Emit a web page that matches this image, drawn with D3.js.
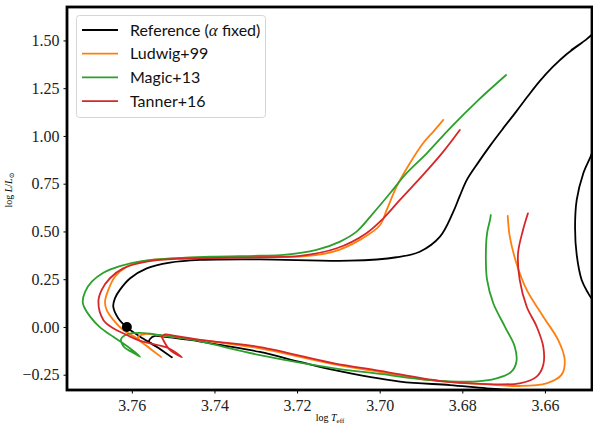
<!DOCTYPE html>
<meta charset="utf-8">
<title>HR tracks</title>
<style>
body { margin: 0; background: #fff; }
.track { fill: none; stroke-width: 1.8; stroke-linejoin: round; stroke-linecap: round; }
</style>
<body>
<script src="https://d3js.org/d3.v7.min.js"></script>
<script>

// tick values
var xTicks = [3.76, 3.74, 3.72, 3.70, 3.68, 3.66];
var yTicks = [-0.25, 0.00, 0.25, 0.50, 0.75, 1.00, 1.25, 1.50];

var names = ["Reference", "Ludwig+99", "Magic+13", "Tanner+16"];
var colors = ["#000000", "#ff7f0e", "#2ca02c", "#d62728"];

// [log Teff, log L], in path order
var refTrack = [
  [3.6467,1.058],[3.6486,0.911],[3.6507,0.805],[3.6523,0.665],[3.6527,0.518],[3.6523,0.377],
  [3.6511,0.246],[3.6495,0.176],[3.6477,0.115],[3.6443,-0.016],[3.6419,-0.382],[3.6540,-0.372],
  [3.6564,-0.348],[3.6644,-0.334],[3.6741,-0.321],[3.6830,-0.304],[3.6951,-0.286],[3.7112,-0.225],
  [3.7193,-0.183],[3.7290,-0.131],[3.7387,-0.094],[3.7459,-0.068],[3.7520,-0.052],[3.7544,-0.047],
  [3.7556,-0.063],[3.7558,-0.077],[3.7532,-0.115],[3.7503,-0.159],[3.7540,-0.103],[3.7580,-0.051],
  [3.7612,-0.002],[3.7633,0.046],[3.7645,0.106],[3.7641,0.150],[3.7629,0.194],[3.7604,0.255],
  [3.7564,0.307],[3.7508,0.337],[3.7435,0.351],[3.7290,0.354],[3.7072,0.347],[3.6959,0.365],
  [3.6903,0.394],[3.6854,0.473],[3.6823,0.597],[3.6806,0.686],[3.6789,0.770],[3.6762,0.859],
  [3.6733,0.948],[3.6702,1.037],[3.6670,1.126],[3.6641,1.209],[3.6612,1.288],[3.6581,1.361],
  [3.6547,1.429],[3.6508,1.492],[3.6537,1.448],[3.6501,1.503],[3.6486,1.531],[3.6467,1.571]
];

var ludwigTrack = [
  [3.6690,0.581],[3.6685,0.473],[3.6669,0.334],[3.6644,0.194],[3.6604,0.054],[3.6568,-0.068],
  [3.6552,-0.173],[3.6560,-0.251],[3.6596,-0.295],[3.6661,-0.309],[3.6757,-0.298],[3.6878,-0.278],
  [3.6999,-0.236],[3.7113,-0.194],[3.7290,-0.112],[3.7435,-0.068],[3.7532,-0.045],[3.7568,-0.037],
  [3.7585,-0.052],[3.7580,-0.073],[3.7556,-0.112],[3.7528,-0.159],[3.7561,-0.105],[3.7588,-0.059],
  [3.7621,-0.016],[3.7645,0.037],[3.7661,0.089],[3.7665,0.133],[3.7657,0.194],[3.7641,0.263],
  [3.7612,0.316],[3.7564,0.347],[3.7491,0.360],[3.7290,0.368],[3.7193,0.368],[3.7112,0.394],
  [3.7048,0.456],[3.6999,0.534],[3.6983,0.613],[3.6959,0.735],[3.6927,0.857],[3.6895,0.962],
  [3.6870,1.023],[3.6846,1.084]
];

var magicTrack = [
  [3.6731,0.586],[3.6733,0.560],[3.6740,0.491],[3.6743,0.368],[3.6740,0.246],[3.6725,0.124],
  [3.6697,0.002],[3.6673,-0.103],[3.6669,-0.182],[3.6681,-0.234],[3.6717,-0.269],[3.6774,-0.286],
  [3.6878,-0.278],[3.6999,-0.246],[3.7113,-0.215],[3.7290,-0.147],[3.7452,-0.068],[3.7532,-0.042],
  [3.7580,-0.031],[3.7609,-0.037],[3.7626,-0.063],[3.7619,-0.105],[3.7600,-0.131],[3.7580,-0.156],
  [3.7612,-0.100],[3.7645,-0.051],[3.7677,-0.002],[3.7701,0.054],[3.7716,0.106],[3.7719,0.133],
  [3.7713,0.185],[3.7697,0.237],[3.7669,0.284],[3.7629,0.319],[3.7572,0.346],[3.7491,0.360],
  [3.7411,0.368],[3.7290,0.373],[3.7233,0.377],[3.7153,0.403],[3.7096,0.447],[3.7056,0.499],
  [3.7016,0.595],[3.6975,0.700],[3.6935,0.805],[3.6886,0.909],[3.6830,1.040],[3.6765,1.180],
  [3.6694,1.319]
];

var tannerTrack = [
  [3.6641,0.595],[3.6653,0.508],[3.6665,0.386],[3.6661,0.246],[3.6644,0.106],[3.6620,0.002],
  [3.6604,-0.103],[3.6604,-0.199],[3.6620,-0.260],[3.6661,-0.295],[3.6757,-0.298],[3.6854,-0.283],
  [3.6999,-0.230],[3.7113,-0.189],[3.7290,-0.105],[3.7435,-0.068],[3.7495,-0.047],[3.7520,-0.039],
  [3.7527,-0.052],[3.7524,-0.068],[3.7508,-0.120],[3.7479,-0.159],[3.7512,-0.110],[3.7580,-0.073],
  [3.7612,-0.042],[3.7645,-0.007],[3.7669,0.037],[3.7681,0.133],[3.7673,0.194],[3.7653,0.255],
  [3.7621,0.307],[3.7564,0.342],[3.7491,0.356],[3.7290,0.365],[3.7193,0.372],[3.7104,0.412],
  [3.7032,0.491],[3.6991,0.569],[3.6951,0.665],[3.6895,0.796],[3.6846,0.918],[3.6806,1.031]
];

var zams = [3.7612, 0.0];

var tracks = [refTrack, ludwigTrack, magicTrack, tannerTrack];

var W = 593, H = 426;
var mLeft = 67, mRight = 592, mTop = 7, mBottom = 390;
var serif = "'Liberation Serif', 'DejaVu Serif', serif";

var svg = d3.select("body").append("svg")
    .attr("width", W)
    .attr("height", H);

var x = d3.scaleLinear().domain([3.7757, 3.6486]).range([mLeft, mRight]);
var y = d3.scaleLinear().domain([-0.33, 1.675]).range([mBottom, mTop]);

svg.append("clipPath").attr("id", "clip")
  .append("rect")
    .attr("x", mLeft).attr("y", mTop)
    .attr("width", mRight - mLeft).attr("height", mBottom - mTop);

var line = d3.line()
    .x(function(d) { return x(d[0]); })
    .y(function(d) { return y(d[1]); })
    .curve(d3.curveCatmullRom.alpha(0.5));

var g = svg.append("g").attr("clip-path", "url(#clip)");

g.selectAll("path.track")
  .data(tracks)
  .enter().append("path")
    .attr("class", "track")
    .attr("stroke", function(d, i) { return colors[i]; })
    .attr("d", line);

g.append("circle")
    .attr("cx", x(zams[0]))
    .attr("cy", y(zams[1]))
    .attr("r", 5)
    .attr("fill", "#000");

// axes
var xAxis = d3.axisBottom(x).tickValues(xTicks).tickFormat(d3.format(".2f")).tickSizeOuter(0).tickSize(3.5).tickPadding(6);
var yAxis = d3.axisLeft(y).tickValues(yTicks).tickFormat(d3.format(".2f")).tickSizeOuter(0).tickSize(3.5).tickPadding(4);

function styleAxis(a) {
  a.select(".domain").remove();
  a.selectAll(".tick line").attr("stroke", "#000");
  a.selectAll(".tick text")
    .style("font-family", serif)
    .style("font-size", "16px")
    .attr("fill", "#222");
}

svg.append("g").attr("transform", "translate(0," + mBottom + ")").call(xAxis).call(styleAxis);
svg.append("g").attr("transform", "translate(" + mLeft + ",0)").call(yAxis).call(styleAxis);

svg.append("rect")
    .attr("x", mLeft).attr("y", mTop)
    .attr("width", mRight - mLeft).attr("height", mBottom - mTop)
    .attr("fill", "none")
    .attr("stroke", "#000")
    .attr("stroke-width", 2.8);

// axis labels
var xl = svg.append("text")
    .attr("x", 330).attr("y", 421)
    .attr("text-anchor", "middle")
    .style("font-family", serif)
    .style("font-size", "10px");
xl.append("tspan").text("log ");
xl.append("tspan").style("font-style", "italic").text("T");
xl.append("tspan").attr("dy", 2).style("font-size", "7px").text("eff");

var yl = svg.append("text")
    .attr("transform", "translate(12,190) rotate(-90)")
    .attr("text-anchor", "middle")
    .style("font-family", serif)
    .style("font-size", "10px");
yl.append("tspan").text("log ");
yl.append("tspan").style("font-style", "italic").text("L");
yl.append("tspan").text("/");
yl.append("tspan").style("font-style", "italic").text("L");
yl.append("tspan").attr("dy", 2).style("font-size", "7px").text("\u2299");

// legend
var legend = svg.append("g");
legend.append("rect")
    .attr("x", 76.5).attr("y", 15.5)
    .attr("width", 189).attr("height", 102)
    .attr("rx", 3)
    .attr("fill", "#fff")
    .attr("fill-opacity", 0.8)
    .attr("stroke", "#d5d5d5");

names.forEach(function(n, i) {
  var yy = 30 + i * 23.7;
  legend.append("line")
      .attr("x1", 82).attr("x2", 118)
      .attr("y1", yy).attr("y2", yy)
      .attr("stroke", colors[i]).attr("stroke-width", 1.8);
  var t = legend.append("text")
      .attr("x", 130).attr("y", yy + 5.5)
      .style("font-family", "Lato, 'DejaVu Sans', sans-serif")
      .style("font-size", "16px")
      .attr("fill", "#111");
  if (i == 0) {
    t.append("tspan").text("Reference (");
    t.append("tspan").style("font-family", serif).style("font-style", "italic").style("font-size", "17px").text("\u03b1");
    t.append("tspan").text(" fixed)");
  } else {
    t.text(n);
  }
});

</script>
